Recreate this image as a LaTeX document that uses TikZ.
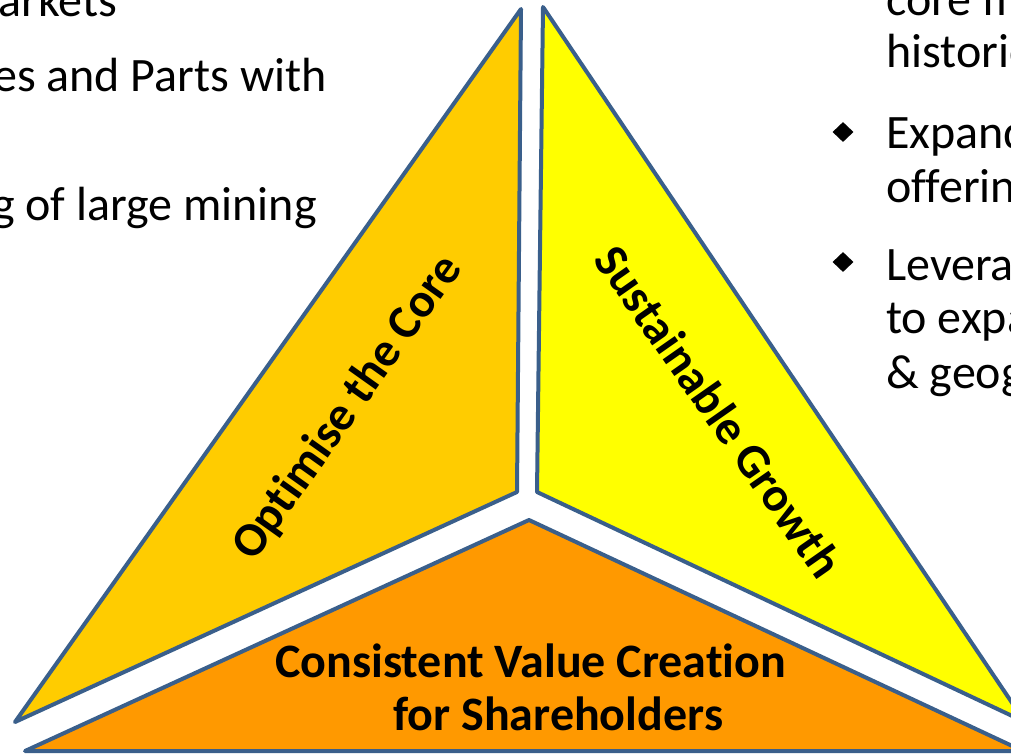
\documentclass[tikz,border=0pt]{standalone}
\usepackage{fontspec}
\setmainfont{Carlito}[RawFeature={-liga;-clig;-calt;-dlig}]
\usetikzlibrary{shapes.geometric}
\definecolor{coreyellow}{HTML}{FFCC00}
\definecolor{growyellow}{HTML}{FFFF00}
\definecolor{valueorange}{HTML}{FF9900}
\definecolor{edgeblue}{HTML}{3A5F8B}
\begin{document}
\begin{tikzpicture}[x=1pt,y=-1pt,
    every node/.style={inner sep=0pt,font=\fontsize{48}{58}\selectfont},
    wedge/.style={draw=edgeblue,line width=4pt,line join=round},
    wedgetext/.style={font=\bfseries\fontsize{48}{58}\selectfont},
    bulletmark/.style={shape=diamond,fill=black,minimum width=21pt,minimum height=20pt}]
  \useasboundingbox (0,0) rectangle (1011,753);
  \clip (0,0) rectangle (1011,753);
  \coordinate (ltop) at (521,9);
  \coordinate (lin) at (517,492);
  \coordinate (lout) at (15,722);
  \coordinate (rtop) at (543,7);
  \coordinate (rin) at (537,492);
  \coordinate (rout) at (1025,722);
  \coordinate (btop) at (529,520);
  \coordinate (bleft) at (25,751);
  \coordinate (bright) at (1023,751);
  \filldraw[wedge,fill=coreyellow] (ltop) -- (lin) -- (lout) -- cycle;
  \filldraw[wedge,fill=growyellow] (rtop) -- (rout) -- (rin) -- cycle;
  \filldraw[wedge,fill=valueorange] (btop) -- (bright) -- (bleft) -- cycle;
  \node[wedgetext,rotate=54.6] (core) at (348,408) {Optimise the Core};
  \node[wedgetext,rotate=-55] (growth) at (719,411) {Sustainable Growth};
  \node[wedgetext,anchor=base west] (value1) at (275,677) {Consistent Value Creation};
  \node[wedgetext,anchor=base west] (value2) at (393,730) {for Shareholders};
  \foreach \txt/\x/\y [count=\i] in {arkets/117/16,es and Parts with/327/91,g of large mining/317/220}
    \node[anchor=base east] (left\i) at (\x,\y) {\txt};
  \foreach \txt/\y [count=\i] in {core fi/15,historic/67,Expand/148,offerin/202,Levera/280,to expa/333,\&~geog/388}
    \node[anchor=base west] (right\i) at (886,\y) {\txt};
  \node[bulletmark] (bullet1) at (843,132) {};
  \node[bulletmark] (bullet2) at (843,262) {};
\end{tikzpicture}
\end{document}
